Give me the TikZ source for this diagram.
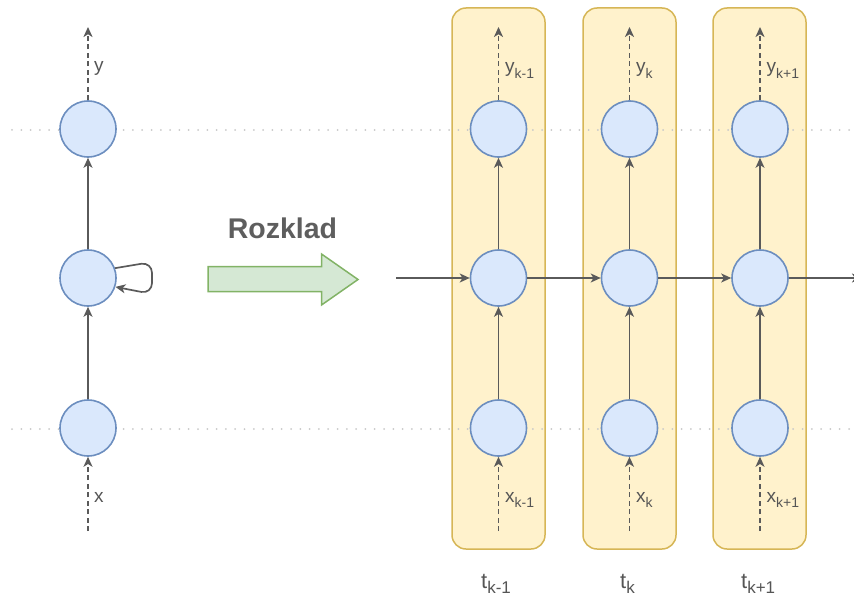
\documentclass[tikz,border=0pt]{standalone}
\usepackage{fontspec}
\setmainfont{Liberation Sans}
\usetikzlibrary{arrows.meta}

\definecolor{edge}{HTML}{5A5A5A}
\definecolor{txt}{HTML}{555555}
\definecolor{cellfill}{HTML}{DAE8FC}
\definecolor{cellline}{HTML}{6C8EBF}
\definecolor{framefill}{HTML}{FFF2CC}
\definecolor{frameline}{HTML}{D6B656}
\definecolor{bigfill}{HTML}{D5E8D4}
\definecolor{bigline}{HTML}{82B366}
\definecolor{guidegray}{HTML}{C8C8C8}

% lowered indices for the labels
\newcommand\idxin[1]{\raisebox{-5.5pt}{\fontsize{14}{14}\selectfont #1}}
\newcommand\idxt[1]{\raisebox{-5pt}{\fontsize{17}{17}\selectfont #1}}

\begin{document}
\begin{tikzpicture}[x=1pt,y=-1pt,
  cell/.style={circle, draw=cellline, fill=cellfill, line width=1.6pt,
               minimum size=56pt, inner sep=0pt},
  frame/.style={draw=frameline, fill=framefill, rounded corners=14pt, line width=1.5pt},
  link/.style={draw=edge, line width=1.7pt,
               -{Stealth[length=10pt,width=9pt,inset=2.8pt]}},
  feed/.style={link, dash pattern=on 5pt off 3.5pt},
  guide/.style={draw=guidegray, line width=2pt, line cap=round,
                dash pattern=on 0pt off 9.3pt},
  lbl/.style={anchor=base west, inner sep=0pt, text=txt,
              font=\fontsize{19}{22}\selectfont},
  tlbl/.style={anchor=base west, inner sep=0pt, text=txt,
               font=\fontsize{22}{24}\selectfont},
]
\useasboundingbox (0,0) rectangle (854,599);

% time-step frames
\path[frame] (452,8) rectangle (545,549);
\path[frame] (583,8) rectangle (676,549);
\path[frame] (713,8) rectangle (806,549);

% layer guides
\coordinate (gl1) at (12,130);
\coordinate (gr1) at (854,130);
\coordinate (gl2) at (12,429);
\coordinate (gr2) at (854,429);
\draw[guide] (gl1) -- (gr1);
\draw[guide] (gl2) -- (gr2);

% folded network
\node[cell] (out) at (88,129) {};
\node[cell] (hid) at (88,278) {};
\node[cell] (inp) at (88,428) {};

\coordinate (ytop) at (88,27);
\coordinate (xbot) at (88,531);
\draw[feed] (out.north) -- (ytop);
\draw[feed] (xbot) -- (inp.south);
\draw[link] (inp) -- (hid);
\draw[link] (hid) -- (out);
\draw[link, rounded corners=11pt] (hid.20) -- (152,262) -- (152,294) -- (hid.-18);
\node[lbl] (ylab) at (94,72) {y};
\node[lbl] (xlab) at (94,502) {x};

% unfold arrow
\node[inner sep=0pt, text=txt!95!white, font=\bfseries\fontsize{28.5}{30}\selectfont,
      anchor=base] (title) at (282.5,238) {Rozklad};
\draw[draw=bigline, fill=bigfill, line width=1.5pt]
  (208,266.5) -- (321.5,266.5) -- (321.5,254) -- (358,279.5) -- (321.5,305)
  -- (321.5,291.5) -- (208,291.5) -- cycle;

% unfolded network
\foreach \n/\cx in {a/498.5, b/629.5, c/760} {
  \node[cell] (\n o) at (\cx,129) {};
  \node[cell] (\n h) at (\cx,278) {};
  \node[cell] (\n i) at (\cx,428) {};
  \coordinate (\n top) at (\cx,27);
  \coordinate (\n bot) at (\cx,531);
  \draw[feed] (\n o.north) -- (\n top);
  \draw[feed] (\n bot) -- (\n i.south);
  \draw[link] (\n i) -- (\n h);
  \draw[link] (\n h) -- (\n o);
}

\coordinate (hin) at (396,278);
\coordinate (hout) at (862,278);
\draw[link] (hin) -- (ah.west);
\draw[link] (ah.east) -- (bh.west);
\draw[link] (bh.east) -- (ch.west);
\draw[link] (ch.east) -- (hout);

% labels
\node[lbl] (ya) at (505,73) {y\idxin{k-1}};
\node[lbl] (yb) at (636,73) {y\idxin{k}};
\node[lbl] (yc) at (766.5,73) {y\idxin{k+1}};
\node[lbl] (xa) at (505,502) {x\idxin{k-1}};
\node[lbl] (xb) at (636,502) {x\idxin{k}};
\node[lbl] (xc) at (766.5,502) {x\idxin{k+1}};
\node[tlbl] (ta) at (481,588) {t\idxt{k-1}};
\node[tlbl] (tb) at (620,588) {t\idxt{k}};
\node[tlbl] (tc) at (741,588) {t\idxt{k+1}};
\end{tikzpicture}
\end{document}
